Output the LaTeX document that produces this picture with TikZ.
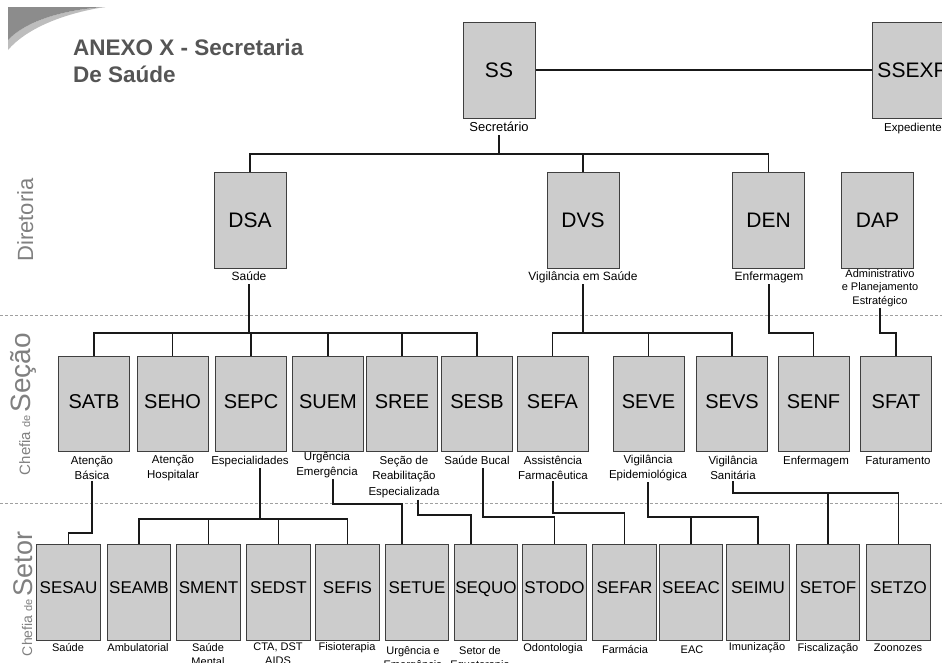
\documentclass[tikz,border=0pt]{standalone}
\usepackage{fontspec}
\setmainfont{Liberation Sans}
\definecolor{boxfill}{HTML}{CCCCCC}
\definecolor{boxline}{HTML}{3F3F3F}
\definecolor{sidegray}{HTML}{808080}
\definecolor{titlegray}{HTML}{555555}
\definecolor{dashgray}{HTML}{A0A0A0}
\definecolor{swdark}{HTML}{8C8C8C}
\definecolor{swlight}{HTML}{BDBDBD}
\tikzset{
  box/.style={draw=boxline, fill=boxfill, line width=1pt, inner sep=0pt, text=black},
  dbox/.style={box, minimum width=72pt, minimum height=96pt, text depth=0pt, font=\fontsize{21}{25}\selectfont},
  sbox/.style={box, minimum width=71pt, minimum height=95pt, text depth=4pt, font=\fontsize{20}{24}\selectfont},
  tbox/.style={box, minimum width=63.5pt, minimum height=96pt, text depth=9pt, font=\fontsize{17}{20}\selectfont},
  lab/.style={inner sep=1.5pt, align=center, text=black},
  one/.style={text height=8.5pt, text depth=2.5pt},
  labA/.style={lab, font=\fontsize{12}{14}\selectfont},
  labB/.style={lab, font=\fontsize{11.5}{14.5}\selectfont},
  labC/.style={lab, font=\fontsize{11}{14}\selectfont},
  conn/.style={draw=black!90, line width=1.1pt},
  sepline/.style={draw=dashgray, line width=0.8pt, dash pattern=on 3pt off 2pt},
  side/.style={rotate=90, text=sidegray, inner sep=0pt},
}
\begin{document}
\begin{tikzpicture}[x=1pt,y=-1pt]
\useasboundingbox (0,0) rectangle (942,662);
\clip (0,0) rectangle (942,662);

% swoosh
\fill[swlight] (8,40) .. controls (25,22) and (60,10) .. (105,7) .. controls (60,14) and (25,30) .. (8,50) -- cycle;
\fill[swdark] (8,7) -- (105,7) .. controls (60,10) and (25,22) .. (8,40) -- cycle;

% title
\node[anchor=base west, inner sep=0pt, text=titlegray, font=\bfseries\fontsize{22.5}{27}\selectfont] (title1) at (73,55) {ANEXO X - Secretaria};
\node[anchor=base west, inner sep=0pt, text=titlegray, font=\bfseries\fontsize{22.5}{27}\selectfont] (title2) at (73,82) {De Saúde};

% separators
\coordinate (sepL1) at (0,315); \coordinate (sepR1) at (942,315);
\coordinate (sepL2) at (0,503); \coordinate (sepR2) at (942,503);
\draw[sepline] (sepL1) -- (sepR1);
\draw[sepline] (sepL2) -- (sepR2);

% side labels
\node[side, anchor=base] (sideDir) at (33,220) {\fontsize{22}{26}\selectfont Diretoria};
\node[side, anchor=base] (sideSec) at (30,404) {\fontsize{15}{17}\selectfont Chefia \fontsize{11}{13}\selectfont de \fontsize{28}{31}\selectfont Seção};
\node[side, anchor=base] (sideSet) at (32,594) {\fontsize{14}{16}\selectfont Chefia \fontsize{11}{13}\selectfont de \fontsize{27}{30}\selectfont Setor};

% top
\node[dbox] (SS) at (499,70) {SS};
\node[dbox, minimum width=81pt] (SSEXP) at (912.5,70) {SSEXP};
\node[lab, one, font=\fontsize{13}{15}\selectfont] (SSl) at (499,128) {Secretário};
\node[lab, one, font=\fontsize{11.5}{14}\selectfont] (SSEXPl) at (913,128) {Expediente};

% diretoria
\node[dbox] (DSA) at (250,220) {DSA};
\node[dbox] (DVS) at (583,220) {DVS};
\node[dbox] (DEN) at (768.5,220) {DEN};
\node[dbox] (DAP) at (877.5,220) {DAP};
\node[labA, one] (DSAl) at (249,277) {Saúde};
\node[labA, one] (DVSl) at (583,277) {Vigilância em Saúde};
\node[labA, one] (DENl) at (769,277) {Enfermagem};
\node[lab, font=\fontsize{11}{13.5}\selectfont] (DAPl) at (880,288) {Administrativo\\e Planejamento\\Estratégico};

% chefia de secao
\node[sbox] (SATB) at (94,403.5) {SATB};
\node[sbox] (SEHO) at (172.5,403.5) {SEHO};
\node[sbox] (SEPC) at (251,403.5) {SEPC};
\node[sbox] (SUEM) at (328,403.5) {SUEM};
\node[sbox] (SREE) at (402,403.5) {SREE};
\node[sbox] (SESB) at (477,403.5) {SESB};
\node[sbox] (SEFA) at (552.5,403.5) {SEFA};
\node[sbox] (SEVE) at (648.5,403.5) {SEVE};
\node[sbox] (SEVS) at (732,403.5) {SEVS};
\node[sbox] (SENF) at (813.5,403.5) {SENF};
\node[sbox] (SFAT) at (896,403.5) {SFAT};

\node[labB] (SATBl) at (92,468) {Atenção\\Básica};
\node[labB] (SEHOl) at (173,468) {Atenção\\Hospitalar};
\node[labB, one] (SEPCl) at (250,461) {Especialidades};
\node[labB] (SUEMl) at (327,465) {Urgência\\Emergência};
\node[lab, font=\fontsize{11.5}{15.5}\selectfont] (SREEl) at (404,477) {Seção de\\Reabilitação\\Especializada};
\node[labB, one] (SESBl) at (477,461) {Saúde Bucal};
\node[labB] (SEFAl) at (553,468) {Assistência\\Farmacêutica};
\node[labB] (SEVEl) at (648,468) {Vigilância\\Epidemiológica};
\node[labB] (SEVSl) at (733,468) {Vigilância\\Sanitária};
\node[labB, one] (SENFl) at (816,461) {Enfermagem};
\node[labB, one] (SFATl) at (898,461) {Faturamento};

% chefia de setor
\node[tbox] (SESAU) at (68.5,592) {SESAU};
\node[tbox] (SEAMB) at (139,592) {SEAMB};
\node[tbox] (SMENT) at (208.5,592) {SMENT};
\node[tbox] (SEDST) at (278.5,592) {SEDST};
\node[tbox] (SEFIS) at (347.5,592) {SEFIS};
\node[tbox] (SETUE) at (417,592) {SETUE};
\node[tbox] (SEQUO) at (486,592) {SEQUO};
\node[tbox] (STODO) at (554.5,592) {STODO};
\node[tbox] (SEFAR) at (624.5,592) {SEFAR};
\node[tbox] (SEEAC) at (691,592) {SEEAC};
\node[tbox] (SEIMU) at (758,592) {SEIMU};
\node[tbox] (SETOF) at (828,592) {SETOF};
\node[tbox] (SETZO) at (898.5,592) {SETZO};

\node[labC, one] (SESAUl) at (68,648) {Saúde};
\node[labC, one] (SEAMBl) at (138,648) {Ambulatorial};
\node[labC] (SMENTl) at (208,654) {Saúde\\Mental};
\node[labC] (SEDSTl) at (278,654) {CTA, DST\\AIDS};
\node[labC, one] (SEFISl) at (347,647) {Fisioterapia};
\node[labC] (SETUEl) at (413,659) {Urgência e\\Emergência};
\node[labC] (SEQUOl) at (480,659) {Setor de\\Equoterapia};
\node[labC, one] (STODOl) at (553,648) {Odontologia};
\node[labC, one] (SEFARl) at (625,650) {Farmácia};
\node[labC, one] (SEEACl) at (692,650) {EAC};
\node[labC, one] (SEIMUl) at (757,647) {Imunização};
\node[labC, one] (SETOFl) at (828,648) {Fiscalização};
\node[labC, one] (SETZOl) at (898,648) {Zoonozes};

% bus levels
\coordinate (busA) at (0,154);
\coordinate (busB) at (0,333);
\coordinate (yS1) at (0,533);
\coordinate (yS2) at (0,519);
\coordinate (yS3) at (0,504);
\coordinate (yS4) at (0,515);
\coordinate (yS5) at (0,517);
\coordinate (yS6) at (0,513);
\coordinate (yS7) at (0,517);
\coordinate (yS8) at (0,493);

% top connectors
\draw[conn] (SS) -- (SSEXP);
\draw[conn] (SSl.south) -- (SSl.south |- busA);
\draw[conn] (DSA.north) -- (DSA.north |- busA) -- (DEN.north |- busA) -- (DEN.north);
\draw[conn] (DVS.north) -- (DVS.north |- busA);

% diretoria -> secao
\draw[conn] (DSAl.south) -- (DSAl.south |- busB);
\draw[conn] (SATB.north) -- (SATB.north |- busB) -- (SESB.north |- busB) -- (SESB.north);
\foreach \n in {SEHO,SEPC,SUEM,SREE} \draw[conn] (\n.north) -- (\n.north |- busB);
\draw[conn] (DVSl.south) -- (DVSl.south |- busB);
\draw[conn] (SEFA.north) -- (SEFA.north |- busB) -- (SEVS.north |- busB) -- (SEVS.north);
\draw[conn] (SEVE.north) -- (SEVE.north |- busB);
\draw[conn] (DENl.south) -- (DENl.south |- busB) -| (SENF.north);
\draw[conn] (DAPl.south) -- (DAPl.south |- busB) -| (SFAT.north);

% secao -> setor
\draw[conn] (SATBl.south) -- (SATBl.south |- yS1) -| (SESAU.north);
\coordinate (cSEPC) at ([xshift=10pt]SEPCl.south);
\draw[conn] (cSEPC) -- (cSEPC |- yS2);
\draw[conn] (SEAMB.north) -- (SEAMB.north |- yS2) -- (SEFIS.north |- yS2) -- (SEFIS.north);
\draw[conn] (SMENT.north) -- (SMENT.north |- yS2);
\draw[conn] (SEDST.north) -- (SEDST.north |- yS2);
\coordinate (cSUEM) at ([xshift=6pt]SUEMl.south);
\coordinate (cSETUE) at ([xshift=-15pt]SETUE.north);
\draw[conn] (cSUEM) -- (cSUEM |- yS3) -| (cSETUE);
\coordinate (cSREE) at ([xshift=14pt]SREEl.south);
\coordinate (cSEQUO) at ([xshift=-15pt]SEQUO.north);
\draw[conn] (cSREE) -- (cSREE |- yS4) -| (cSEQUO);
\coordinate (cSESB) at ([xshift=6pt]SESBl.south);
\draw[conn] (cSESB) -- (cSESB |- yS5) -| (STODO.north);
\draw[conn] (SEFAl.south) -- (SEFAl.south |- yS6) -| (SEFAR.north);
\draw[conn] (SEVEl.south) -- (SEVEl.south |- yS7) -| (SEIMU.north);
\draw[conn] (SEEAC.north) -- (SEEAC.north |- yS7);
\draw[conn] (SEVSl.south) -- (SEVSl.south |- yS8) -| (SETZO.north);
\draw[conn] (SETOF.north) -- (SETOF.north |- yS8);
\end{tikzpicture}
\end{document}
